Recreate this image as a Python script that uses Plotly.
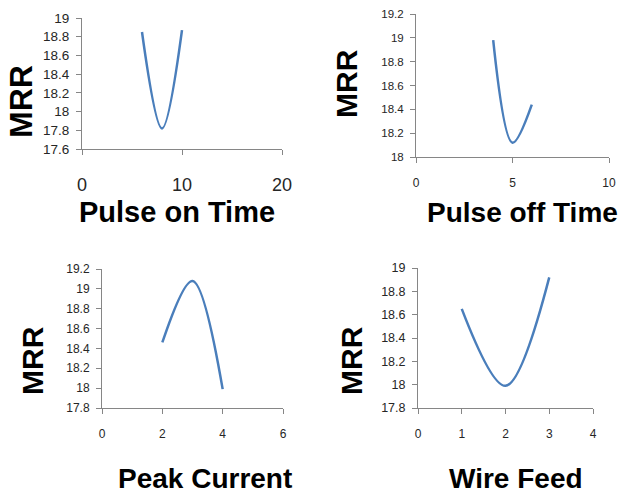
import plotly.graph_objects as go

W, H = 625, 493

# Data
x_pulse_on = [6, 8, 10]
mrr_pulse_on = [18.85, 17.82, 18.87]
x_pulse_off = [4, 5, 6]
mrr_pulse_off = [18.98, 18.12, 18.44]
x_peak = [2, 3, 4]
mrr_peak = [18.46, 19.08, 17.99]
x_wire = [1, 2, 3]
mrr_wire = [18.65, 17.99, 18.92]

titles = ["Pulse on Time", "Pulse off Time", "Peak Current", "Wire Feed"]

def px_x(v):
    return v / W

def px_y(v):
    return 1 - v / H

LINE = "#4a7ebb"
AXC = "#868686"
TXT = "#262626"
FONT = "Liberation Sans, Arial, sans-serif"

fig = go.Figure()

panels = [
    (x_pulse_on, mrr_pulse_on, (82, 282), (18, 149), [0, 20], 10, [17.6, 19], 13.5, 18, 14),
    (x_pulse_off, mrr_pulse_off, (416, 609), (14, 157), [0, 10], 5, [18, 19.2], 11.5, 12, 10),
    (x_peak, mrr_peak, (102, 283), (269, 408), [0, 6], 2, [17.8, 19.2], 12, 12, 10),
    (x_wire, mrr_wire, (418, 593), (268, 408), [0, 4], 1, [17.8, 19], 12.5, 12, 10),
]

layout = {}
for i, (xs, ys, xd, yd, xr, xdt, yr, yfs, xfs, xso) in enumerate(panels):
    n = "" if i == 0 else str(i + 1)
    fig.add_trace(go.Scatter(
        x=xs, y=ys, mode="lines",
        line=dict(color=LINE, width=2.5, shape="spline", smoothing=1.0),
        xaxis="x" + n, yaxis="y" + n, showlegend=False, hoverinfo="skip",
    ))
    layout["xaxis" + n] = dict(
        domain=[px_x(xd[0]), px_x(xd[1])], range=xr, dtick=xdt, tick0=0,
        anchor="y" + n, showgrid=False, zeroline=False, showline=True,
        linecolor=AXC, linewidth=1, ticks="outside", ticklen=5, tickcolor=AXC,
        tickfont=dict(family=FONT, size=xfs, color=TXT), ticklabelstandoff=xso,
        automargin=False,
    )
    layout["yaxis" + n] = dict(
        domain=[px_y(yd[1]), px_y(yd[0])], range=yr, dtick=0.2, tick0=0,
        anchor="x" + n, showgrid=False, zeroline=False, showline=True,
        linecolor=AXC, linewidth=1, ticks="outside", ticklen=5, tickcolor=AXC,
        tickfont=dict(family=FONT, size=yfs, color=TXT), ticklabelstandoff=4,
        automargin=False,
    )

annotations = []
xt = [(177, 212, 29), (522, 212, 28), (205, 478, 28), (516, 478, 28)]
for t, (cx, cy, fs) in zip(titles, xt):
    annotations.append(dict(
        text=t, x=px_x(cx), y=px_y(cy), xref="paper", yref="paper",
        xanchor="center", yanchor="middle", showarrow=False,
        font=dict(family=FONT, size=fs, color="#000000", weight="bold"),
    ))
mt = [(21, 102, 32), (346, 84, 30), (32, 361, 30), (351, 361, 30)]
for cx, cy, fs in mt:
    annotations.append(dict(
        text="MRR", x=px_x(cx), y=px_y(cy), xref="paper", yref="paper",
        xanchor="center", yanchor="middle", showarrow=False, textangle=-90,
        font=dict(family=FONT, size=fs, color="#000000", weight="bold"),
    ))

fig.update_layout(
    width=W, height=H,
    margin=dict(l=0, r=0, t=0, b=0, autoexpand=False),
    paper_bgcolor="white", plot_bgcolor="white",
    annotations=annotations,
    **layout,
)

fig.write_html(
    "out.html",
    config={"displayModeBar": False},
    post_script="document.body.style.margin='0';document.body.style.overflow='hidden';",
)
